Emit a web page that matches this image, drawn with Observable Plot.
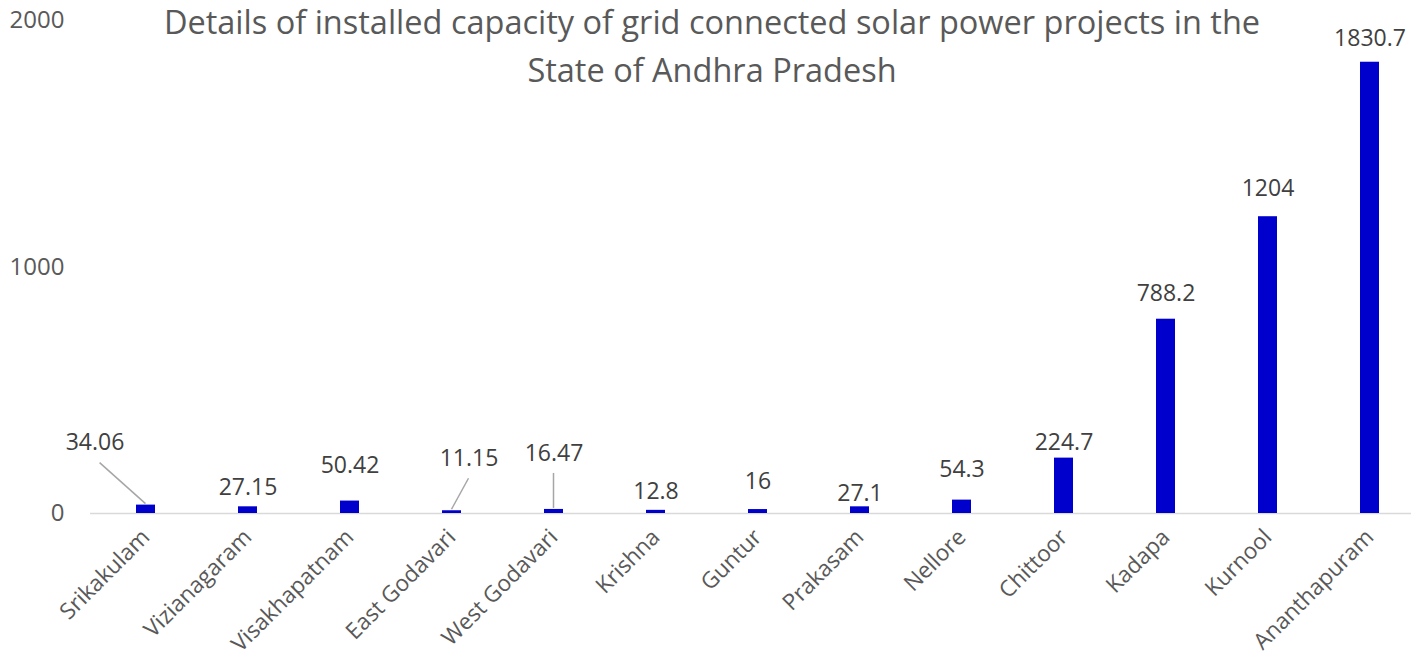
<!DOCTYPE html>
<html>
<head>
<meta charset="utf-8">
<script src="https://cdn.jsdelivr.net/npm/d3@7"></script>
<script src="https://cdn.jsdelivr.net/npm/@observablehq/plot@0.6"></script>
<style>
  html, body { margin: 0; padding: 0; background: #fff; overflow: hidden; }
  #wrap { position: relative; width: 1411px; height: 664px; overflow: hidden; }
  #title { position: absolute; left: 0; width: 1424px; top: -2px; text-align: center;
    font-family: "Open Sans", sans-serif; font-size: 32.5px; line-height: 48px; color: #595959; pointer-events: none; }
</style>
</head>
<body>
<div id="wrap">
  <div id="chart"></div>
  <div id="title">Details of installed capacity of grid connected solar power projects in the<br>State of Andhra Pradesh</div>
</div>
<script>
const districts = ["Srikakulam", "Vizianagaram", "Visakhapatnam", "East Godavari", "West Godavari", "Krishna", "Guntur", "Prakasam", "Nellore", "Chittoor", "Kadapa", "Kurnool", "Ananthapuram"];
const capacity = [34.06, 27.15, 50.42, 11.15, 16.47, 12.8, 16, 27.1, 54.3, 224.7, 788.2, 1204, 1830.7];
const labels = ["34.06", "27.15", "50.42", "11.15", "16.47", "12.8", "16", "27.1", "54.3", "224.7", "788.2", "1204", "1830.7"];
const yTicks = [0, 1000, 2000];

// label placement (styling, in pixels relative to bar top)
const labelDx = [-51, 0, 0, 17, 0, 0, 0, 0, 0, 0, 0, 0, 0];
const labelDy = [-62, -19, -35, -52, -56, -19, -28, -13, -30, -15, -26, -28, -24];
const leader = [true, false, false, true, true, false, false, false, false, false, false, false, false];

const data = districts.map((d, i) => ({district: d, value: capacity[i], label: labels[i], dx: labelDx[i], dy: labelDy[i], leader: leader[i]}));

const font = "'Open Sans', sans-serif";
const plot = Plot.plot({
  width: 1424,
  height: 664,
  marginLeft: 90,
  marginRight: 0,
  marginTop: 20,
  marginBottom: 151,
  style: {fontFamily: font, background: "transparent", overflow: "visible", maxWidth: "none"},
  x: {domain: districts, paddingInner: 0.815, paddingOuter: 0.4075, axis: null, label: null},
  y: {domain: [0, 2000], axis: null, label: null},
  marks: [
    Plot.ruleY([0], {stroke: "#d9d9d9", strokeWidth: 1.5}),
    Plot.barY(data, {x: "district", y: "value", fill: "#0000cc"}),
    Plot.axisY({ticks: yTicks, tickSize: 0, tickPadding: 26, tickFormat: d => String(d), fontSize: 24, fill: "#595959", anchor: "left", label: null}),
    Plot.axisX({tickSize: 0, tickRotate: -45, tickPadding: 20, fontSize: 22.5, fill: "#595959", label: null}),
    ...data.map(d => Plot.text([d], {x: "district", y: "value", text: "label", dx: d.dx, dy: d.dy, lineAnchor: "middle", fontSize: 23, fill: "#404040"}))
  ]
});
document.getElementById("chart").appendChild(plot);

// leader lines from bar top to its displaced label, via Plot's scales
const xs = plot.scale("x"), ys = plot.scale("y");
const svg = d3.select(plot);
const bw = xs.bandwidth || 0;
data.filter(d => d.leader).forEach(d => {
  const x0 = xs.apply(d.district) + bw / 2;
  const y0 = ys.apply(d.value);
  svg.append("line")
    .attr("x1", x0).attr("y1", y0 - 1)
    .attr("x2", x0 + d.dx * (d.dx < 0 ? 0.9 : 1)).attr("y2", y0 + d.dy + 20)
    .attr("stroke", "#a6a6a6").attr("stroke-width", 1.5);
});
</script>
</body>
</html>
